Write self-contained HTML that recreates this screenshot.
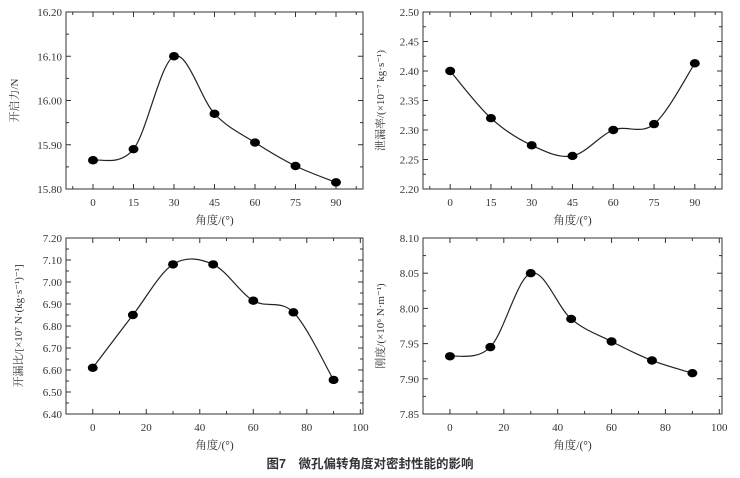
<!DOCTYPE html>
<html><head><meta charset="utf-8"><style>
body{margin:0;background:#fff;}
svg text{font-family:"Liberation Serif","Noto Serif CJK SC",serif;fill:#333;}
</style></head><body>
<svg id="fig" width="740" height="473" viewBox="0 0 740 473" xmlns="http://www.w3.org/2000/svg">
<text x="370" y="468" text-anchor="middle" font-size="12.5" font-weight="bold" style="font-family:'Liberation Sans','Noto Sans CJK SC',sans-serif">图7　微孔偏转角度对密封性能的影响</text>
</svg>
<script>
const anglesA = [0,15,30,45,60,75,90];
const forceVals = [15.865,15.89,16.10,15.97,15.905,15.852,15.815];
const leakVals = [2.40,2.32,2.274,2.256,2.30,2.31,2.413];
const ratioVals = [6.61,6.85,7.08,7.08,6.915,6.862,6.555];
const stiffVals = [7.932,7.945,8.05,7.985,7.953,7.926,7.908];
const xTicksA = [0,15,30,45,60,75,90];
const xTicksB = [0,20,40,60,80,100];
const yTicks1 = [15.80,15.90,16.00,16.10,16.20];
const yTicks2 = [2.20,2.25,2.30,2.35,2.40,2.45,2.50];
const yTicks3 = [6.40,6.50,6.60,6.70,6.80,6.90,7.00,7.10,7.20];
const yTicks4 = [7.85,7.90,7.95,8.00,8.05,8.10];

const NS="http://www.w3.org/2000/svg";
const svg=document.getElementById('fig');
function mk(tag,attrs,parent){const e=document.createElementNS(NS,tag);for(const k in attrs)e.setAttribute(k,attrs[k]);(parent||svg).appendChild(e);return e;}

function chart(cfg){
  const g=mk('g',{});
  
  
  const L=cfg.L,R=cfg.R,T=cfg.T,B=cfg.B;
  const xs=v=>L+(v-cfg.xmin)/(cfg.xmax-cfg.xmin)*(R-L);
  const ys=v=>B-(v-cfg.ymin)/(cfg.ymax-cfg.ymin)*(B-T);
  const frame=mk('rect',{x:L,y:T,width:R-L,height:B-T,fill:'none',stroke:'#333','stroke-width':1},g);
  
  
  // x ticks
  const xt=cfg.xticks, step=xt[1]-xt[0];
  for(let i=0;i<xt.length;i++){
    const x=xs(xt[i]);
    mk('line',{x1:x,y1:B,x2:x,y2:B-5,stroke:'#333'},g);
    mk('line',{x1:x,y1:T,x2:x,y2:T+5,stroke:'#333'},g);
    const t=mk('text',{x:x,y:B+17,'text-anchor':'middle','font-size':11},g);
    t.textContent=xt[i];
    
    
  }
  for(let v=xt[0]-step/2;v<=cfg.xmax;v+=step){
    if(v<cfg.xmin)continue;
    const x=xs(v);
    mk('line',{x1:x,y1:B,x2:x,y2:B-3,stroke:'#333'},g);
    mk('line',{x1:x,y1:T,x2:x,y2:T+3,stroke:'#333'},g);
  }
  const yt=cfg.yticks, ystep=yt[1]-yt[0];
  for(let i=0;i<yt.length;i++){
    const y=ys(yt[i]);
    mk('line',{x1:L,y1:y,x2:L+5,y2:y,stroke:'#333'},g);
    mk('line',{x1:R,y1:y,x2:R-5,y2:y,stroke:'#333'},g);
    const t=mk('text',{x:L-4,y:y+4,'text-anchor':'end','font-size':11},g);
    t.textContent=yt[i].toFixed(2);
    
    
    if(i<yt.length-1){const ym=ys(yt[i]+ystep/2);
      mk('line',{x1:L,y1:ym,x2:L+3,y2:ym,stroke:'#333'},g);
      mk('line',{x1:R,y1:ym,x2:R-3,y2:ym,stroke:'#333'},g);}
  }
  const xl=mk('text',{x:(L+R)/2,y:B+35,'text-anchor':'middle','font-size':11.5,fill:'#555'},g);
  xl.textContent='角度/(°)';
  
  
  const yl=mk('text',{x:0,y:0,'text-anchor':'middle','font-size':11,transform:`translate(${cfg.ylx},${(T+B)/2}) rotate(-90)`},g);
  yl.textContent=cfg.ylabel;
  
  
  // curve
  const P=cfg.x.map((v,i)=>[xs(v),ys(cfg.y[i])]);
  let d=`M${P[0][0]},${P[0][1]}`;
  for(let i=0;i<P.length-1;i++){
    const p0=P[Math.max(0,i-1)],p1=P[i],p2=P[i+1],p3=P[Math.min(P.length-1,i+2)];
    const c1=[p1[0]+(p2[0]-p0[0])/6,p1[1]+(p2[1]-p0[1])/6];
    const c2=[p2[0]-(p3[0]-p1[0])/6,p2[1]-(p3[1]-p1[1])/6];
    d+=` C${c1[0]},${c1[1]} ${c2[0]},${c2[1]} ${p2[0]},${p2[1]}`;
  }
  const path=mk('path',{d:d,fill:'none',stroke:'#222','stroke-width':1.2},g);
  
  
  P.forEach(p=>{
    const c=mk('ellipse',{cx:p[0],cy:p[1],rx:5,ry:4.2,fill:'#000'},g);
    
    
  });
}
chart({name:'opening-force-chart',L:66,R:363,T:12,B:189,xmin:-10,xmax:100,ymin:15.8,ymax:16.2,xticks:xTicksA,yticks:yTicks1,x:anglesA,y:forceVals,ylabel:'开启力/N',ylx:18});
chart({name:'leakage-rate-chart',L:423,R:722,T:12,B:189,xmin:-10,xmax:100,ymin:2.2,ymax:2.5,xticks:xTicksA,yticks:yTicks2,x:anglesA,y:leakVals,ylabel:'泄漏率/(×10⁻⁷ kg·s⁻¹)',ylx:384});
chart({name:'open-leak-ratio-chart',L:66,R:363,T:238,B:414,xmin:-10,xmax:101,ymin:6.4,ymax:7.2,xticks:xTicksB,yticks:yTicks3,x:anglesA,y:ratioVals,ylabel:'开漏比/[×10⁷ N·(kg·s⁻¹)⁻¹]',ylx:22});
chart({name:'stiffness-chart',L:423,R:722,T:238,B:414,xmin:-10,xmax:101,ymin:7.85,ymax:8.10,xticks:xTicksB,yticks:yTicks4,x:anglesA,y:stiffVals,ylabel:'刚度/(×10⁶ N·m⁻¹)',ylx:384});
</script>
</body></html>
